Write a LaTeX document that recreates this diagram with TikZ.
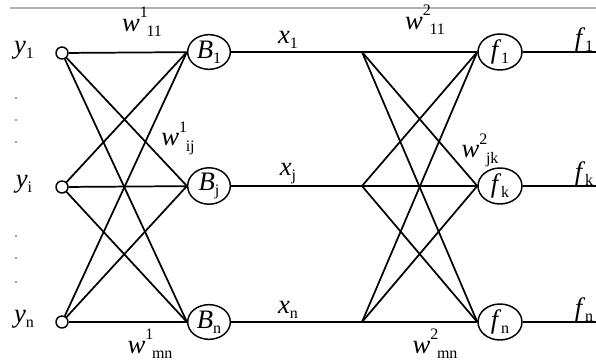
\documentclass[tikz,border=0pt]{standalone}
\usepackage{fontspec}
\setmainfont{Liberation Serif}
\usetikzlibrary{positioning,calc,shapes.geometric}
\newcommand{\sm}{\fontsize{12}{12}\selectfont}
\newcommand{\wt}[3]{\textit{#1}\rlap{\raisebox{1.1ex}{\sm #2}}\hspace{0.25em}\raisebox{-0.45ex}{\sm #3}}
\newcommand{\lab}[2]{\textit{#1}\raisebox{-0.4ex}{\sm #2}}

\begin{document}
\begin{tikzpicture}[
  x=0.75pt, y=-0.75pt,
  font=\fontsize{20}{22}\selectfont,
  inp/.style={circle, draw, line width=1.1pt, minimum size=9pt, inner sep=0pt},
  unit/.style={ellipse, draw, line width=1.1pt, minimum width=32pt, minimum height=26pt, inner sep=0pt},
  outp/.style={ellipse, draw, line width=1.1pt, minimum width=33pt, minimum height=27pt, inner sep=0pt},
  link/.style={line width=1.3pt}
]
  \useasboundingbox (0,0) rectangle (596,363);
  \draw[gray!60, line width=1.4pt] (10,8) -- (596,8);

  % input layer
  \node[inp] (y1) at (62,53) {};
  \node[inp] (yi) at (62,187) {};
  \node[inp] (yn) at (62,322) {};
  \node (ly1) at (24,50) {\lab{y}{1}};
  \node (lyi) at (24,184) {\lab{y}{i}};
  \node (lyn) at (24,319) {\lab{y}{n}};
  \foreach \y in {98,120,142,236,258,282} \fill[gray] (16,\y) circle (0.9pt);

  % first layer
  \node[unit] (B1) at (209,52) {\lab{B}{1}};
  \node[unit] (Bj) at (209,186) {\lab{B}{j}};
  \node[unit] (Bn) at (209,322) {\lab{B}{n}};

  % second layer
  \coordinate (h1) at (362,52);
  \coordinate (hj) at (362,186);
  \coordinate (hn) at (362,322);
  \node[outp] (f1) at (500,52) {\lab{f}{1}};
  \node[outp] (fk) at (500,186) {\lab{f}{k}};
  \node[outp] (fn) at (500,322) {\lab{f}{n}};
  \coordinate (e1) at (600,52);
  \coordinate (ek) at (600,186);
  \coordinate (en) at (600,322);

  \draw[link] (y1) -- (B1) -- (h1) -- (f1) -- (e1);
  \draw[link] (yi) -- (Bj) -- (hj) -- (fk) -- (ek);
  \draw[link] (yn) -- (Bn) -- (hn) -- (fn) -- (en);
  \foreach \a/\b in {y1/Bj, y1/Bn, yi/B1, yi/Bn, yn/B1, yn/Bj}
    \draw[link] (\a) -- (\b.west);
  \foreach \a/\b in {h1/fk, h1/fn, hj/f1, hj/fn, hn/f1, hn/fk}
    \draw[link] (\a) -- (\b.west);

  % labels
  \node (w11) at (142,22) {\wt{w}{1}{11}};
  \node (wij) at (178,138) {\wt{w}{1}{ij}};
  \node (wmn) at (150,344) {\wt{w}{1}{mn}};
  \node (v11) at (425,20) {\wt{w}{2}{11}};
  \node (vjk) at (480,150) {\wt{w}{2}{jk}};
  \node (vmn) at (435,344) {\wt{w}{2}{mn}};
  \node (x1) at (288,40) {\lab{x}{1}};
  \node (xj) at (288,174) {\lab{x}{j}};
  \node (xn) at (288,310) {\lab{x}{n}};
  \node (o1) at (584,40) {\lab{f}{1}};
  \node (ok) at (584,174) {\lab{f}{k}};
  \node (on) at (584,310) {\lab{f}{n}};
\end{tikzpicture}
\end{document}
